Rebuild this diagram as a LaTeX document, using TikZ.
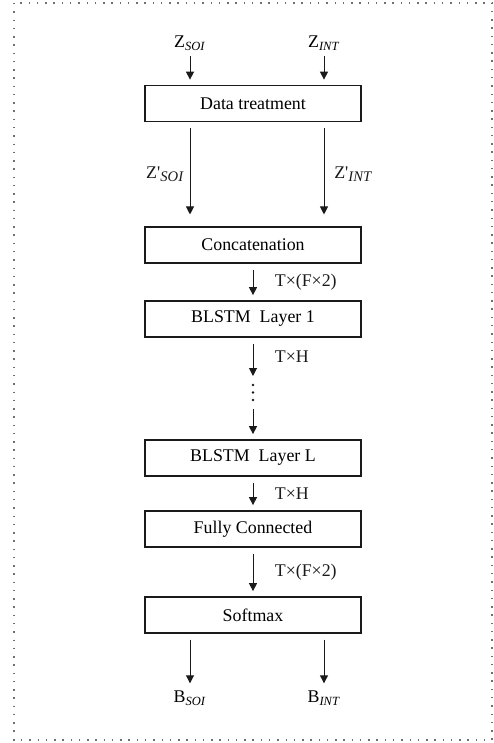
\documentclass[tikz,border=0pt]{standalone}
\usepackage{fontspec}
\setmainfont{Liberation Serif}
\usetikzlibrary{arrows.meta, positioning, calc}
\definecolor{dotgray}{HTML}{707070}
\definecolor{inkblack}{HTML}{1A1A1A}
\newcommand{\sbt}[1]{\textsubscript{\textit{#1}}}
\newcommand{\sbtbig}[1]{\raisebox{-0.45ex}{\fontsize{11}{13}\selectfont\textit{#1}}}

\begin{document}
\begin{tikzpicture}[x=0.75pt, y=-0.75pt,
    txt/.style={font=\fontsize{13.4}{16}\selectfont},
    layer/.style={txt, draw=inkblack, line width=0.8pt, minimum width=162pt, minimum height=27pt, inner sep=0pt},
    flow/.style={-{Triangle[length=6pt, width=6pt]}, line width=0.75pt, inkblack, shorten <=4.5pt, shorten >=4pt},
    dimlbl/.style={txt, midway, right=16pt, inner sep=0pt}]
  \useasboundingbox (0,0) rectangle (493,743);
  \draw[dotgray, line width=1.1pt, dash pattern=on 1.1pt off 5.1pt] (14,3) rectangle (492,740);

  % inputs
  \node[txt] (zsoi) at (190,43) {Z\sbt{SOI}};
  \node[txt] (zint) at (324,43) {Z\sbt{INT}};

  % layers
  \node[layer] (treat) at (253,103.5) {Data treatment};
  \node[layer] (concat) at (253,245) {Concatenation};
  \node[layer] (blstmA) at (253,319) {BLSTM\ \ Layer 1};
  \node[layer] (blstmL) at (253,458) {BLSTM\ \ Layer L};
  \node[layer] (dense) at (253,529) {Fully Connected};
  \node[layer] (smax) at (253,615) {Softmax};

  % outputs
  \node[txt] (bsoi) at (190,698) {B\sbt{SOI}};
  \node[txt] (bint) at (324,698) {B\sbt{INT}};

  \draw[flow, shorten <=1pt] (zsoi) -- (zsoi |- treat.north);
  \draw[flow, shorten <=1pt] (zint) -- (zint |- treat.north);
  \draw[flow, shorten >=9pt] (treat.south -| zsoi) -- (concat.north -| zsoi)
    node[txt, midway, left=1pt] {Z\textquotesingle\sbtbig{SOI}};
  \draw[flow, shorten >=9pt] (treat.south -| zint) -- (concat.north -| zint)
    node[txt, midway, right=4pt] {Z\textquotesingle\sbtbig{INT}};

  \draw[flow] (concat) -- (blstmA) node[dimlbl] {T×(F×2)};
  \coordinate (gapA) at (253,376);
  \coordinate (gapB) at (253,409);
  \draw[flow, shorten >=0pt] (blstmA) -- (gapA) node[dimlbl] {T×H};
  \foreach \yy in {385,392.5,400}
    \fill[inkblack] (253,\yy) circle (1pt);
  \draw[flow, shorten <=0pt] (gapB) -- (blstmL);
  \draw[flow] (blstmL) -- (dense) node[dimlbl] {T×H};
  \draw[flow] (dense) -- (smax) node[dimlbl] {T×(F×2)};

  \draw[flow, shorten >=2pt] (smax.south -| bsoi) -- (bsoi);
  \draw[flow, shorten >=2pt] (smax.south -| bint) -- (bint);
\end{tikzpicture}
\end{document}
